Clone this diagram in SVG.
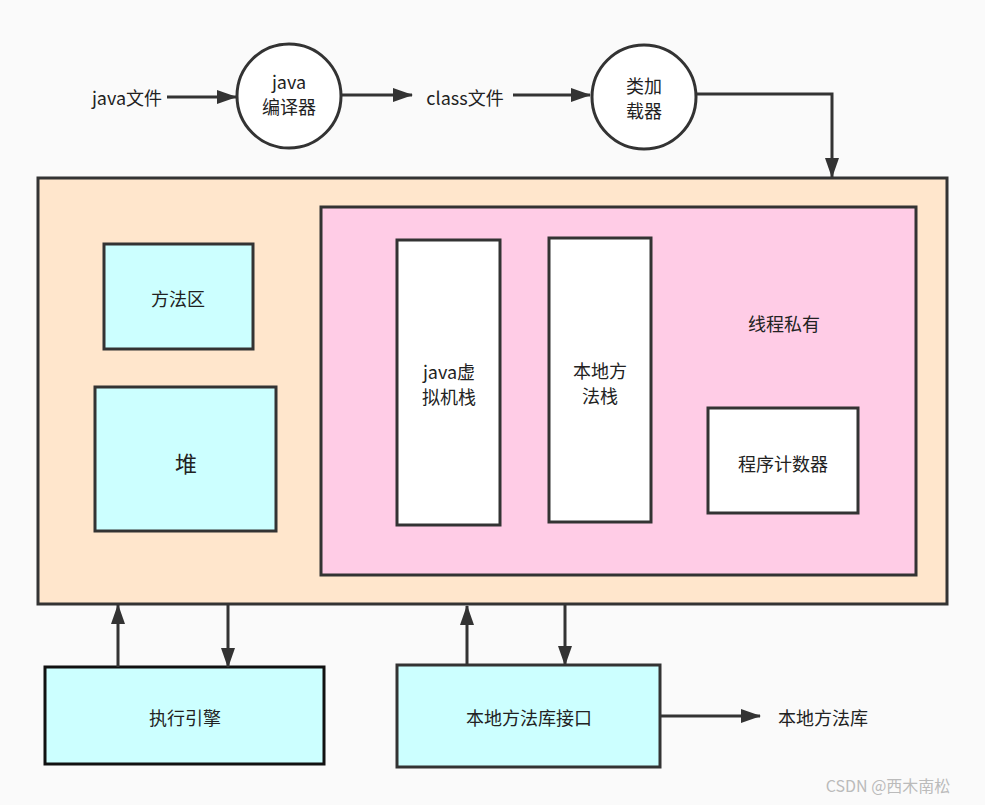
<svg xmlns="http://www.w3.org/2000/svg" width="985" height="805" viewBox="0 0 985 805">
<style>
text{font-family:"Noto Sans CJK SC","Noto Sans",sans-serif;font-size:18px;fill:#222;text-anchor:middle;dominant-baseline:central}
.n{stroke:#333;stroke-width:3}
.c{fill:none;stroke:#333;stroke-width:3}
</style>
<defs>
<marker id="a" viewBox="0 0 20 14" refX="19" refY="7" markerWidth="20" markerHeight="14" markerUnits="userSpaceOnUse" orient="auto">
<path d="M0,0L20,7L0,14z" fill="#333"/>
</marker>
</defs>
<rect width="985" height="805" fill="#fafafa"/>
<g id="jvm"><rect class="n" x="38" y="178" width="909" height="426" fill="#ffe6cc"/></g>
<g id="private"><rect class="n" x="321" y="207" width="595" height="368" fill="#ffcce6"/><text x="784" y="323">线程私有</text></g>
<g id="method"><rect class="n" x="104" y="244" width="149" height="105" fill="#ccffff"/><text x="178" y="298">方法区</text></g>
<g id="heap"><rect class="n" x="95" y="387" width="181" height="144" fill="#ccffff"/><text x="186" y="462" style="font-size:22px">堆</text></g>
<g id="jstack"><rect class="n" x="397" y="240" width="103" height="285" fill="#fff"/><text x="449" y="371">java虚</text><text x="449" y="396">拟机栈</text></g>
<g id="nstack"><rect class="n" x="549" y="238" width="102" height="284" fill="#fff"/><text x="600" y="370">本地方</text><text x="600" y="395">法栈</text></g>
<g id="pc"><rect class="n" x="708" y="408" width="150" height="105" fill="#fff"/><text x="783" y="463">程序计数器</text></g>
<g id="javafile"><text x="127" y="97">java文件</text></g>
<g id="compiler"><circle class="n" cx="289" cy="96" r="52" fill="#fff"/><text x="289" y="81">java</text><text x="289" y="106">编译器</text></g>
<g id="classfile"><text x="465" y="97">class文件</text></g>
<g id="loader"><circle class="n" cx="644" cy="97" r="52" fill="#fff"/><text x="644" y="85">类加</text><text x="644" y="110">载器</text></g>
<g id="engine"><rect x="45" y="667" width="279" height="97" fill="#ccffff" stroke="#111" stroke-width="3"/><text x="185" y="717">执行引擎</text></g>
<g id="nif"><rect class="n" x="397" y="665" width="263" height="102" fill="#ccffff"/><text x="529" y="717">本地方法库接口</text></g>
<g id="nlib"><text x="823" y="717">本地方法库</text></g>
<g id="connectors">
<path class="c" d="M167,97H236" marker-end="url(#a)"/>
<path class="c" d="M342,95H412" marker-end="url(#a)"/>
<path class="c" d="M513,95H590" marker-end="url(#a)"/>
<path class="c" d="M697,94H832V177" marker-end="url(#a)"/>
<path class="c" d="M118,667V605" marker-end="url(#a)"/>
<path class="c" d="M228,605V667" marker-end="url(#a)"/>
<path class="c" d="M467,665V606" marker-end="url(#a)"/>
<path class="c" d="M565,605V665" marker-end="url(#a)"/>
<path class="c" d="M661,716H760" marker-end="url(#a)"/>
</g>
<text x="888" y="785" style="font-size:16px;fill:#bbb">CSDN @西木南松</text>
</svg>
